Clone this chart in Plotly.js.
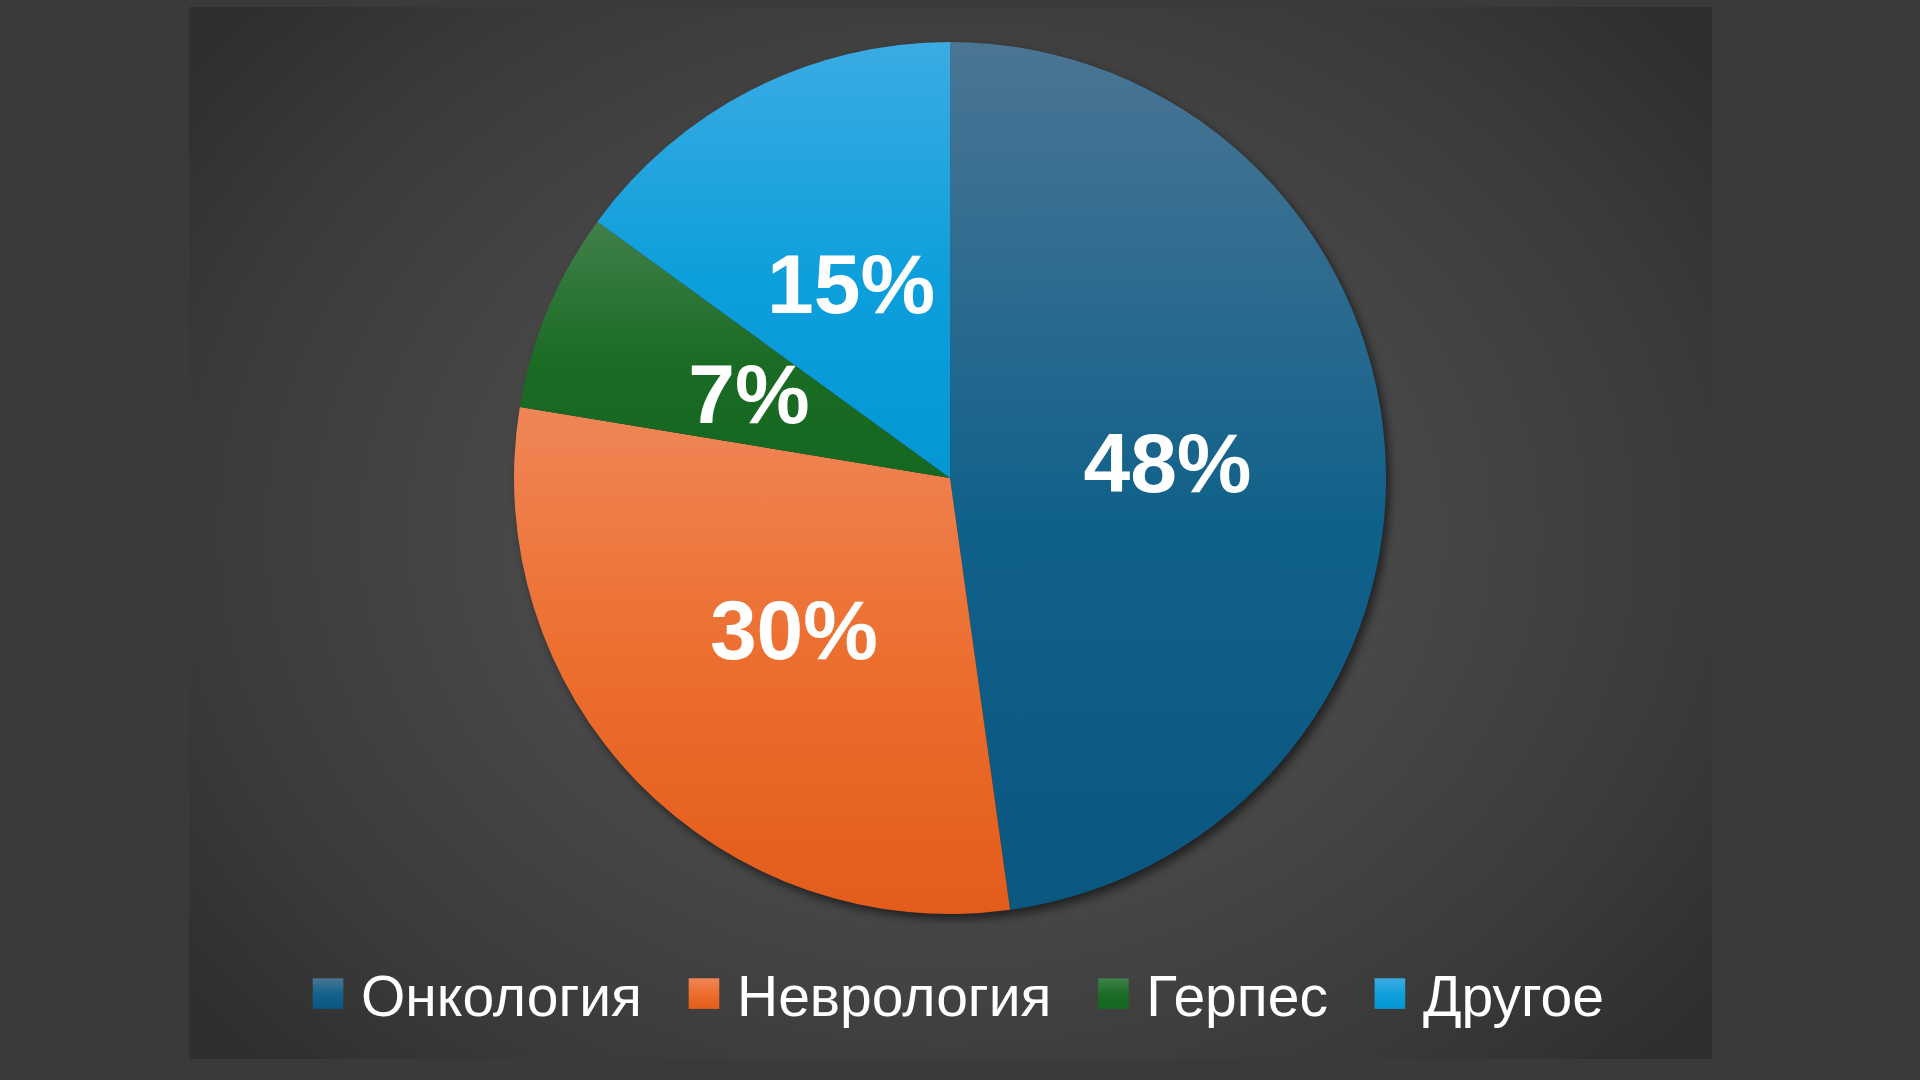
<!DOCTYPE html>
<html>
<head>
<meta charset="utf-8">
<script src="https://cdn.plot.ly/plotly-3.0.1.min.js"></script>
<style>
  html, body { margin: 0; padding: 0; width: 1920px; height: 1080px; overflow: hidden; background: #3a3a3a; }
  #panel { position: absolute; left: 189px; top: 7px; width: 1523px; height: 1052px;
    background: radial-gradient(ellipse 62% 72% at 50% 50%, #505050 0%, #484848 45%, #3a3a3a 80%, #2f2f2f 100%); }
  #chart { position: absolute; left: 0; top: 0; width: 1920px; height: 1080px; }
</style>
</head>
<body>
<div id="panel"></div>
<div id="chart"></div>
<script>
// ---- data ----
const categories = ["Онкология", "Неврология", "Герпес", "Другое"];
const shares = [47.8, 29.8, 7.4, 15.0];

// ---- styles ----
const baseColors = ["#10618a", "#ec6c2b", "#1a6b24", "#0c9fdb"];
const topColors = ["#4b7594", "#ef8657", "#41804a", "#3babe3"];
const bottomColors = ["#0a5780", "#e35c1b", "#156821", "#0497d4"];
const labelRadiusFraction = 0.5;

const data = [{
  type: "pie",
  labels: categories,
  values: shares,
  sort: false,
  direction: "clockwise",
  rotation: 0,
  marker: { colors: baseColors, line: { width: 0 } },
  texttemplate: "%{percent:.0%}",
  textposition: "inside",
  insidetextorientation: "horizontal",
  insidetextfont: { family: "Liberation Sans, Arial, sans-serif", size: 84, color: "#ffffff", weight: "bold" },
  domain: { x: [0, 0.9896], y: [0, 1] },
  hoverinfo: "none"
}];

const layout = {
  width: 1920, height: 1080,
  paper_bgcolor: "rgba(0,0,0,0)",
  plot_bgcolor: "rgba(0,0,0,0)",
  margin: { l: 0, r: 0, t: 42, b: 166 },
  showlegend: true,
  legend: {
    orientation: "h",
    xref: "container", yref: "container",
    x: 0.4896, xanchor: "center",
    y: 0.0796, yanchor: "middle",
    itemwidth: 80,
    font: { family: "Liberation Sans, Arial, sans-serif", size: 57, color: "#ffffff" },
    bgcolor: "rgba(0,0,0,0)"
  }
};

Plotly.newPlot("chart", data, layout, { staticPlot: true, displayModeBar: false }).then(function (gd) {
  const ns = "http://www.w3.org/2000/svg";
  const svg = gd.querySelector(".main-svg");
  let defs = svg.querySelector("defs");
  if (!defs) { defs = document.createElementNS(ns, "defs"); svg.insertBefore(defs, svg.firstChild); }

  // vertical gradients per slice
  categories.forEach(function (c, i) {
    const lg = document.createElementNS(ns, "linearGradient");
    lg.setAttribute("id", "sg" + i);
    lg.setAttribute("x1", "0"); lg.setAttribute("y1", "0");
    lg.setAttribute("x2", "0"); lg.setAttribute("y2", "1");
    [[0, topColors[i]], [0.55, baseColors[i]], [1, bottomColors[i]]].forEach(function (s) {
      const st = document.createElementNS(ns, "stop");
      st.setAttribute("offset", s[0]);
      st.setAttribute("stop-color", s[1]);
      lg.appendChild(st);
    });
    defs.appendChild(lg);
  });

  // shadow filter
  const f = document.createElementNS(ns, "filter");
  f.setAttribute("id", "pieShadow");
  f.setAttribute("x", "-10%"); f.setAttribute("y", "-10%");
  f.setAttribute("width", "120%"); f.setAttribute("height", "120%");
  const blur = document.createElementNS(ns, "feGaussianBlur");
  blur.setAttribute("stdDeviation", "5");
  f.appendChild(blur);
  defs.appendChild(f);

  const slices = gd.querySelectorAll(".pielayer .slice");
  let minX = Infinity, minY = Infinity, maxX = -Infinity, maxY = -Infinity;
  slices.forEach(function (s) {
    const p = s.querySelector("path.surface");
    if (!p) return;
    const d = s.__data__ || p.__data__;
    const idx = (d && d.i !== undefined) ? d.i : 0;
    p.style.fill = "url(#sg" + idx + ")";
    const r = p.getBoundingClientRect();
    minX = Math.min(minX, r.left); minY = Math.min(minY, r.top);
    maxX = Math.max(maxX, r.right); maxY = Math.max(maxY, r.bottom);
  });
  const cxS = (minX + maxX) / 2, cyS = (minY + maxY) / 2, radS = (maxX - minX) / 2;

  // put each percentage label on its slice bisector at half radius
  const total = shares.reduce(function (a, b) { return a + b; }, 0);
  let cum = 0;
  const mids = shares.map(function (v) {
    const m = (cum + v / 2) / total * 2 * Math.PI;
    cum += v;
    return m;
  });
  slices.forEach(function (s) {
    const d = s.__data__;
    const t = s.querySelector("text.slicetext");
    if (!t || !d) return;
    const ang = mids[d.i];
    const tx = cxS + labelRadiusFraction * radS * Math.sin(ang);
    const ty = cyS - labelRadiusFraction * radS * Math.cos(ang);
    const bb = t.getBoundingClientRect();
    const dx = tx - (bb.left + bb.right) / 2;
    const dy = ty - (bb.top + bb.bottom) / 2;
    const old = t.getAttribute("transform") || "";
    t.setAttribute("transform", "translate(" + dx + "," + dy + ") " + old);
  });

  const pielayer = gd.querySelector(".pielayer");
  if (pielayer && isFinite(minX)) {
    const m = pielayer.getScreenCTM().inverse();
    const pt = svg.createSVGPoint();
    pt.x = cxS; pt.y = cyS;
    const c = pt.matrixTransform(m);
    const circ = document.createElementNS(ns, "circle");
    circ.setAttribute("cx", c.x + 4);
    circ.setAttribute("cy", c.y + 5);
    circ.setAttribute("r", radS);
    circ.setAttribute("fill", "rgba(0,0,0,0.55)");
    circ.setAttribute("filter", "url(#pieShadow)");
    pielayer.insertBefore(circ, pielayer.firstChild);
  }

  // larger legend squares with gradient
  gd.querySelectorAll(".legend .traces").forEach(function (tr, k) {
    const p = tr.querySelector("path.legendpie");
    if (!p) return;
    const d = tr.__data__;
    let idx = k;
    if (d && d[0] && d[0].i !== undefined) idx = d[0].i;
    const t = p.getAttribute("transform") || "";
    p.setAttribute("transform", t + " translate(12,0) scale(2.55)");
    p.style.fill = "url(#sg" + idx + ")";
    p.style.strokeWidth = "0";
  });
});
</script>
</body>
</html>
